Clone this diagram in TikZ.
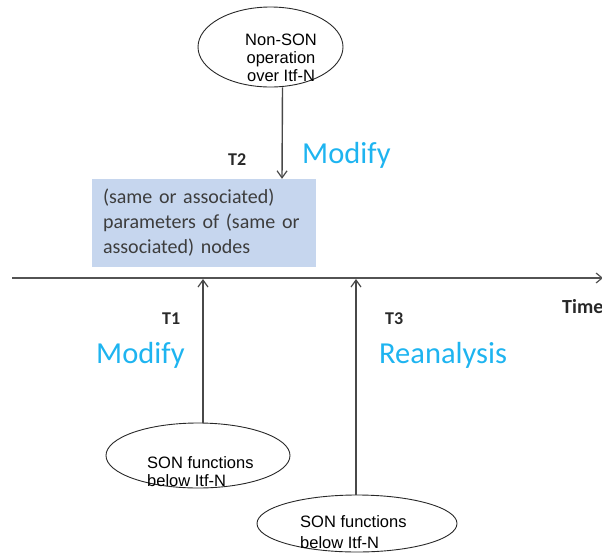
\documentclass[tikz,border=0pt]{standalone}
\usepackage{fontspec}
\setmainfont{Carlito}
\newfontfamily\elfont{Liberation Sans}
\usetikzlibrary{shapes.geometric,arrows.meta}
\definecolor{boxblue}{RGB}{198,214,238}
\definecolor{skyc}{RGB}{30,180,240}
\definecolor{ink}{RGB}{40,40,40}
\begin{document}
\begin{tikzpicture}[x=1pt,y=-1pt,
  oval/.style={ellipse,draw=ink,line width=0.9pt,inner sep=0pt},
  ovtext/.style={font=\elfont\fontsize{16.5}{18}\selectfont,text=black,inner sep=0pt},
  arr/.style={draw=ink!85,line width=1.4pt,-{Straight Barb[length=7pt,width=10pt,line width=1.2pt]}},
  tlabel/.style={font=\bfseries\fontsize{18}{20}\selectfont,text=ink,inner sep=0pt,anchor=base west},
  action/.style={font=\fontsize{30.5}{32}\selectfont,text=skyc,inner sep=0pt,anchor=base west}]
\useasboundingbox (0,0) rectangle (602,555);
% top ellipse
\node[oval,minimum width=145pt,minimum height=80pt] (nonson) at (270.5,47) {};
\node[ovtext,align=center,anchor=north] (nonsontxt) at (281,33.5) {Non-SON\\operation\\over Itf-N};
% parameters box
\node[fill=boxblue,minimum width=224pt,minimum height=88pt,text width=202pt,inner xsep=11pt,
  align=left,text=ink!90,font=\fontsize{20}{25}\selectfont] (params) at (204,223)
  {(same or associated) parameters of (same or associated) nodes};
% top arrow
\draw[arr] ([xshift=12]nonson.south) -- ([xshift=78]params.north);
\node[tlabel] (t2) at (228,165) {T2};
\node[action] (mod2) at (302,163) {Modify};
% timeline
\coordinate (tstart) at (12,278);
\coordinate (tend) at (603,278);
\draw[draw=ink!80,line width=2pt,-{Straight Barb[length=6pt,width=10pt,line width=1.2pt]}] (tstart) -- (tend);
\node[tlabel,font=\bfseries\fontsize{20}{22}\selectfont] (time) at (562,313) {Time};
% bottom left
\node[oval,minimum width=184pt,minimum height=65pt] (sonA) at (198,455.5) {};
\node[ovtext,align=left,anchor=north west] (sonAtxt) at (147,456.5) {SON functions\\below Itf-N};
\coordinate (hitA) at (203,279);
\draw[arr] ([xshift=5]sonA.north) -- (hitA);
\node[tlabel] (t1) at (162,324) {T1};
\node[action] (mod1) at (96,363) {Modify};
% bottom right
\node[oval,minimum width=200pt,minimum height=57pt] (sonB) at (357,523.5) {};
\node[ovtext,align=left,anchor=north west,font=\elfont\fontsize{16.5}{21}\selectfont] (sonBtxt) at (300,515.5) {SON functions\\below Itf-N};
\coordinate (hitB) at (356,279);
\draw[arr] ([xshift=-1]sonB.north) -- (hitB);
\node[tlabel] (t3) at (385,324) {T3};
\node[action] (rean) at (379,363) {Reanalysis};
\end{tikzpicture}
\end{document}
